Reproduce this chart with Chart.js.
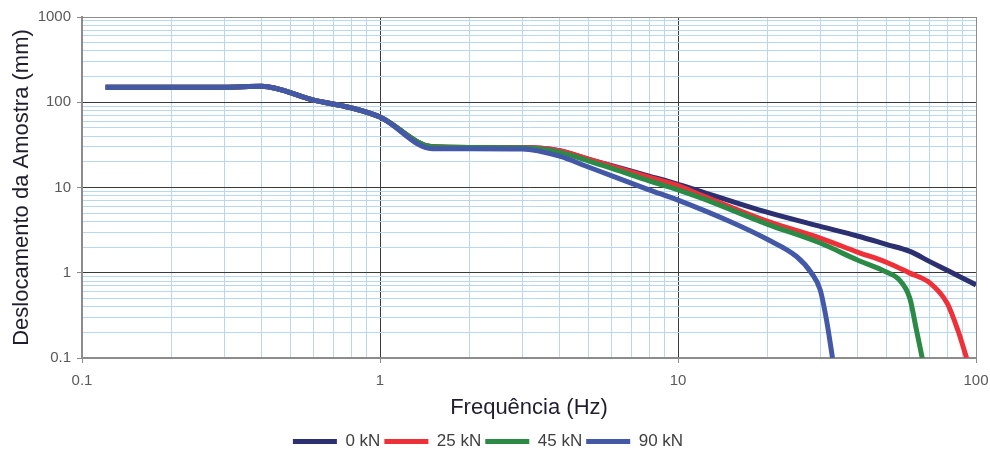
<!DOCTYPE html>
<html>
<head>
<meta charset="utf-8">
<script src="https://cdn.jsdelivr.net/npm/chart.js@4"></script>
<style>
  body { margin: 0; background: #fff; }
  canvas { display: block; }
</style>
</head>
<body>
<canvas id="chart" width="990" height="452"></canvas>
<script>
// Curva de deslocamento x frequência (log-log)
const seriesNames = ['0 kN', '25 kN', '45 kN', '90 kN'];

const freq0kN = [0.12, 0.3, 0.4, 0.6, 0.8, 1, 1.5, 2, 3, 4, 5, 6, 8, 10, 20, 30, 40, 50, 60, 70, 80, 90, 100];
const disp0kN = [150, 150, 154, 106, 86, 67, 30, 29.5, 29.5, 27, 21.5, 18, 13.6, 10.9, 5.1, 3.5, 2.7, 2.15, 1.78, 1.35, 1.07, 0.87, 0.72];

const freq25kN = [0.12, 0.3, 0.4, 0.6, 0.8, 1, 1.5, 2, 3, 4, 5, 6, 8, 10, 12, 20, 30, 40, 50, 60, 70, 80, 87, 93];
const disp25kN = [150, 150, 154, 106, 86, 67, 30, 29.5, 29.5, 27, 21.5, 17.8, 13.2, 10.5, 8.1, 4.0, 2.55, 1.75, 1.33, 0.99, 0.76, 0.44, 0.21, 0.1];

const freq45kN = [0.12, 0.3, 0.4, 0.6, 0.8, 1, 1.5, 2, 3, 4, 5, 6, 8, 10, 12, 20, 30, 40, 50, 55, 60, 63, 66];
const disp45kN = [150, 150, 154, 106, 86, 67, 30, 29.5, 29.3, 26, 20.5, 16.8, 12, 9.4, 7.5, 3.7, 2.23, 1.41, 1.02, 0.84, 0.5, 0.22, 0.1];

const freq90kN = [0.12, 0.3, 0.4, 0.6, 0.8, 1, 1.5, 2, 3, 4, 5, 6, 8, 10, 15, 20, 25, 28, 30, 31.5, 33];
const disp90kN = [150, 150, 154, 106, 86, 67, 28.5, 28.5, 28.3, 23.3, 17.4, 13.7, 9.4, 7.1, 3.96, 2.45, 1.55, 1.0, 0.63, 0.28, 0.1];

const xDecades = [0.1, 1, 10, 100];
const yDecades = [0.1, 1, 10, 100, 1000];

const colors = ['#2d3070', '#ee3138', '#2b8a46', '#4358a7'];

// ticks 1..9 x 10^n para as linhas de grade
function logTicks(decades) {
  const out = [];
  decades.forEach((d, i) => {
    out.push(d);
    if (i === decades.length - 1) return;
    for (let k = 2; k <= 9; k++) out.push(Number((d * k).toPrecision(6)));
  });
  return out;
}

const toPoints = (fs, vs) => fs.map((f, i) => ({ x: f, y: vs[i] }));
const seriesData = [
  toPoints(freq0kN, disp0kN),
  toPoints(freq25kN, disp25kN),
  toPoints(freq45kN, disp45kN),
  toPoints(freq90kN, disp90kN)
];

function gridColor(decades) {
  const first = decades[0], last = decades[decades.length - 1];
  return ctx => {
    const v = ctx.tick && ctx.tick.value;
    if (v === first || v === last) return '#8c8c8c';
    return decades.includes(v) ? '#3a3a3a' : '#b9d7f0';
  };
}
function tickMarkColor(decades) {
  return ctx => (ctx.tick && decades.includes(ctx.tick.value)) ? '#8c8c8c' : 'rgba(0,0,0,0)';
}

const FONT = "'Liberation Sans', Arial, sans-serif";

new Chart(document.getElementById('chart'), {
  type: 'line',
  data: {
    datasets: seriesData.map((pts, i) => ({
      label: seriesNames[i],
      data: pts,
      borderColor: colors[i],
      backgroundColor: colors[i],
      borderWidth: 5,
      pointRadius: 0,
      cubicInterpolationMode: 'monotone',
      order: seriesNames.length - i,
      fill: false
    }))
  },
  options: {
    responsive: false,
    animation: false,
    layout: { padding: { left: 0, right: 14, top: 17, bottom: -8 } },
    plugins: {
      tooltip: { enabled: false },
      legend: {
        position: 'bottom',
        align: 'center',
        labels: {
          usePointStyle: true,
          pointStyle: 'line',
          pointStyleWidth: 44,
          boxHeight: 16,
          padding: 4,
          color: '#404040',
          font: { family: FONT, size: 17 },
          sort: (a, b) => a.datasetIndex - b.datasetIndex
        }
      }
    },
    scales: {
      x: {
        type: 'logarithmic',
        min: 0.1,
        max: 100,
        afterBuildTicks: axis => { axis.ticks = logTicks(xDecades).map(v => ({ value: v })); },
        afterFit: axis => { axis.height = 71; },
        border: { display: true, color: '#8c8c8c', width: 2 },
        grid: {
          color: gridColor(xDecades),
          lineWidth: 1,
          tickColor: tickMarkColor(xDecades),
          tickLength: 5
        },
        ticks: {
          autoSkip: false,
          maxRotation: 0,
          padding: 0,
          color: '#595959',
          font: { family: FONT, size: 15, lineHeight: 2.4 },
          callback: v => xDecades.includes(v) ? String(v) : ''
        },
        title: {
          display: true,
          text: 'Frequência (Hz)',
          color: '#1e1e2e',
          font: { family: FONT, size: 22 },
          padding: { top: 0, bottom: 8 }
        }
      },
      y: {
        type: 'logarithmic',
        min: 0.1,
        max: 1000,
        afterBuildTicks: axis => { axis.ticks = logTicks(yDecades).map(v => ({ value: v })); },
        afterFit: axis => { axis.width = 82; },
        border: { display: true, color: '#8c8c8c', width: 2 },
        grid: {
          color: gridColor(yDecades),
          lineWidth: 1,
          tickColor: tickMarkColor(yDecades),
          tickLength: 5
        },
        ticks: {
          autoSkip: false,
          padding: 6,
          color: '#595959',
          font: { family: FONT, size: 15 },
          callback: v => yDecades.includes(v) ? String(v) : ''
        },
        title: {
          display: true,
          text: 'Deslocamento da Amostra (mm)',
          color: '#1e1e2e',
          font: { family: FONT, size: 22 },
          padding: { top: 9, bottom: 0 }
        }
      }
    }
  }
});
</script>
</body>
</html>
